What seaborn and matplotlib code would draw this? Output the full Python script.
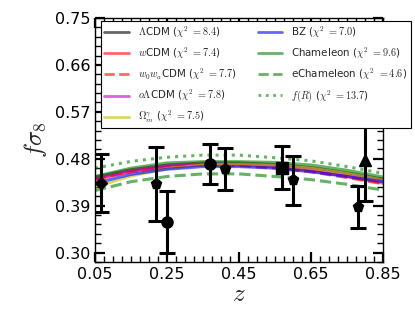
import numpy as np
import pandas as pd
import seaborn as sns
import matplotlib
matplotlib.use("Agg")
import matplotlib.pyplot as plt
from matplotlib.ticker import AutoMinorLocator, FixedLocator

# ---- data -------------------------------------------------------------
z_grid = [0.05, 0.15, 0.25, 0.35, 0.45, 0.55, 0.65, 0.75, 0.85]

lcdm      = [0.445, 0.459, 0.468, 0.472, 0.472, 0.469, 0.463, 0.453, 0.441]
wcdm      = [0.440, 0.455, 0.464, 0.468, 0.468, 0.464, 0.457, 0.446, 0.433]
w0wacdm   = [0.441, 0.456, 0.465, 0.468, 0.467, 0.462, 0.455, 0.444, 0.432]
olcdm     = [0.442, 0.457, 0.467, 0.471, 0.471, 0.467, 0.460, 0.450, 0.439]
omgamma   = [0.426, 0.447, 0.461, 0.468, 0.470, 0.468, 0.462, 0.452, 0.440]
bz        = [0.433, 0.450, 0.460, 0.465, 0.465, 0.462, 0.455, 0.446, 0.436]
chameleon = [0.446, 0.462, 0.472, 0.4745, 0.4745, 0.473, 0.468, 0.458, 0.445]
echam     = [0.419, 0.436, 0.446, 0.451, 0.451, 0.446, 0.440, 0.431, 0.420]
fr        = [0.462, 0.475, 0.483, 0.487, 0.487, 0.482, 0.476, 0.465, 0.452]

model_labels = [
    r'$\Lambda$CDM ($\chi^2$ $=8.4$)',
    r'$w$CDM ($\chi^2$ $=7.4$)',
    r'$w_0w_a$CDM ($\chi^2$ $=7.7$)',
    r'$o\Lambda$CDM ($\chi^2$ $=7.8$)',
    r'$\Omega_m^\gamma$ ($\chi^2$ $=7.5$)',
    r'BZ ($\chi^2$ $=7.0$)',
    r'Chameleon ($\chi^2$ $=9.6$)',
    r'eChameleon ($\chi^2$ $=4.6$)',
    r'$f(R)$ ($\chi^2$ $=13.7$)',
]
model_values = [lcdm, wcdm, w0wacdm, olcdm, omgamma, bz, chameleon, echam, fr]
model_colors = ['k', 'r', 'r', 'm', 'y', 'b', 'g', 'g', 'g']
model_styles = ['-', '-', '--', '-', '-', '-', '-', '--', ':']

z_obs = [0.067, 0.22, 0.25, 0.37, 0.41, 0.57, 0.60, 0.78, 0.80]
f_obs = [0.434, 0.431, 0.359, 0.470, 0.460, 0.463, 0.439, 0.388, 0.478]
f_err = [0.056, 0.071, 0.060, 0.039, 0.040, 0.041, 0.047, 0.040, 0.079]
obs_markers = ['D', 'p', 'o', 'o', 'p', 's', 'p', 'p', '^']

x_ticks = [0.05, 0.25, 0.45, 0.65, 0.85]
y_ticks = [0.30, 0.39, 0.48, 0.57, 0.66, 0.75]

# ---- style ------------------------------------------------------------
sns.set_style("ticks")
plt.rcParams['font.family'] = ['DejaVu Sans']
plt.rcParams['mathtext.fontset'] = 'cm'

fig = plt.figure(figsize=(4.15, 3.12), dpi=100)
ax = fig.add_axes([95/415, 50/312, 288/415, 244/312])

for vals, lab, col, ls in zip(model_values, model_labels, model_colors, model_styles):
    df = pd.DataFrame({'z': z_grid, 'f': vals})
    sns.lineplot(data=df, x='z', y='f', ax=ax, color=col, linestyle=ls,
                 lw=2.2, alpha=0.6, label=lab, zorder=2)

for zz, ff, ee, mk in zip(z_obs, f_obs, f_err, obs_markers):
    ms = 6 if mk == 'D' else 8
    ax.errorbar(zz, ff, yerr=ee, fmt=mk, color='k', ms=ms, elinewidth=2.2,
                capsize=5.5, capthick=2.2, zorder=3)

ax.set_xlim(0.05, 0.85)
ax.set_ylim(0.282, 0.75)
ax.xaxis.set_major_locator(FixedLocator(x_ticks))
ax.yaxis.set_major_locator(FixedLocator(y_ticks))
ax.set_xticklabels([f"{t:.2f}" for t in x_ticks])
ax.set_yticklabels([f"{t:.2f}" for t in y_ticks])
ax.xaxis.set_minor_locator(AutoMinorLocator(8))
ax.yaxis.set_minor_locator(AutoMinorLocator(5))
ax.tick_params(which='both', direction='in', top=True, right=True,
               labelsize=11.5, colors='k')
ax.tick_params(which='major', length=7, width=1.6)
ax.tick_params(which='minor', length=4, width=1.0)
for sp in ax.spines.values():
    sp.set_color('k')
    sp.set_linewidth(1.0)

ax.set_xlabel(r'$z$', fontsize=18, labelpad=0)
ax.set_ylabel(r'$f\sigma_8$', fontsize=18, labelpad=4)

leg = ax.legend(loc='upper left', bbox_to_anchor=(6/288, 241/244),
                borderaxespad=0, ncol=2, fontsize=7.4, frameon=True,
                fancybox=False, framealpha=1, edgecolor='k',
                handlelength=2.4, labelspacing=0.55, columnspacing=2.0,
                handletextpad=0.9, borderpad=0.3)
leg.get_frame().set_linewidth(0.8)
leg.set_zorder(5)
for line in leg.get_lines():
    line.set_linewidth(2.0)

fig.savefig("out.png", dpi=100)
